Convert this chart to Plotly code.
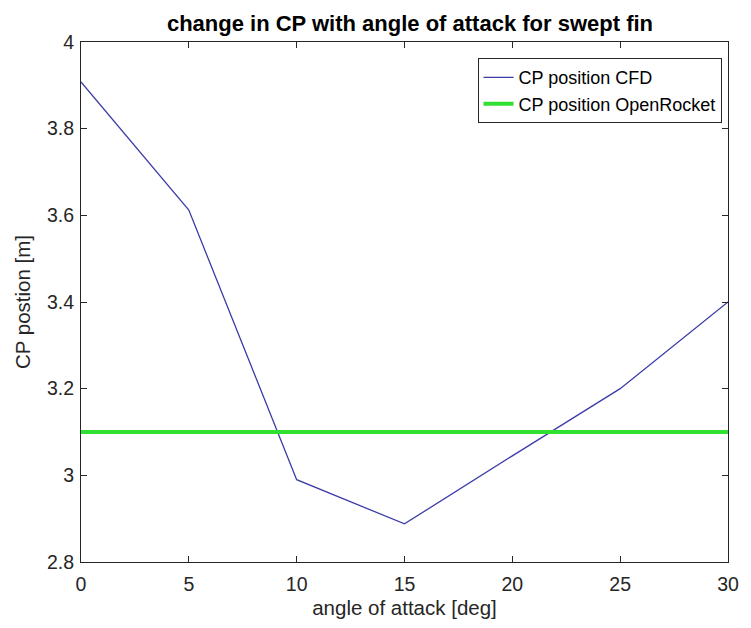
import plotly.graph_objects as go

angle_deg = [0, 5, 10, 15, 20, 25, 30]
cp_cfd = [3.908, 3.612, 2.99, 2.888, 3.045, 3.2, 3.4]
cp_openrocket = [3.1, 3.1]
openrocket_x = [0, 30]

FONT = "Liberation Sans, Arial, Helvetica, sans-serif"
AX = "#262626"

fig = go.Figure()
fig.add_trace(go.Scatter(x=angle_deg, y=cp_cfd, mode="lines",
                         name="CP position CFD",
                         line=dict(color="#3c3ca8", width=1.3)))
fig.add_trace(go.Scatter(x=openrocket_x, y=cp_openrocket, mode="lines",
                         name="CP position OpenRocket",
                         line=dict(color="#30e030", width=4)))

axis_common = dict(showline=True, linecolor=AX, linewidth=1, mirror="ticks",
                   ticks="inside", ticklen=6, tickcolor=AX, showgrid=False,
                   zeroline=False, tickfont=dict(family=FONT, size=19.5, color=AX))

fig.update_layout(
    width=751, height=628,
    margin=dict(l=81, r=12, t=42, b=66),
    paper_bgcolor="white", plot_bgcolor="white",
    font=dict(family=FONT, color=AX),
    title=dict(text="<b>change in CP with angle of attack for swept fin</b>",
               x=(81 + 739) / 2 / 751, xanchor="center", y=1 - 23 / 628, yanchor="middle",
               font=dict(family=FONT, size=22, color="#000000")),
    xaxis=dict(range=[0, 30], tickvals=[0, 5, 10, 15, 20, 25, 30],
               ticklabelstandoff=5,
               title=dict(text="angle of attack [deg]", standoff=6,
                          font=dict(family=FONT, size=20.5, color=AX)),
               **axis_common),
    yaxis=dict(range=[2.8, 4], tickvals=[2.8, 3, 3.2, 3.4, 3.6, 3.8, 4],
               ticktext=["2.8", "3", "3.2", "3.4", "3.6", "3.8", "4"],
               ticklabelstandoff=2,
               title=dict(text="CP postion [m]", standoff=10,
                          font=dict(family=FONT, size=20.5, color=AX)),
               **axis_common),
    legend=dict(x=0.99, xanchor="right", y=0.969, yanchor="top",
                bgcolor="white", bordercolor=AX, borderwidth=1,
                font=dict(family=FONT, size=18, color="#000000"),
                tracegroupgap=0),
    showlegend=True,
)

fig.write_html("out.html")
